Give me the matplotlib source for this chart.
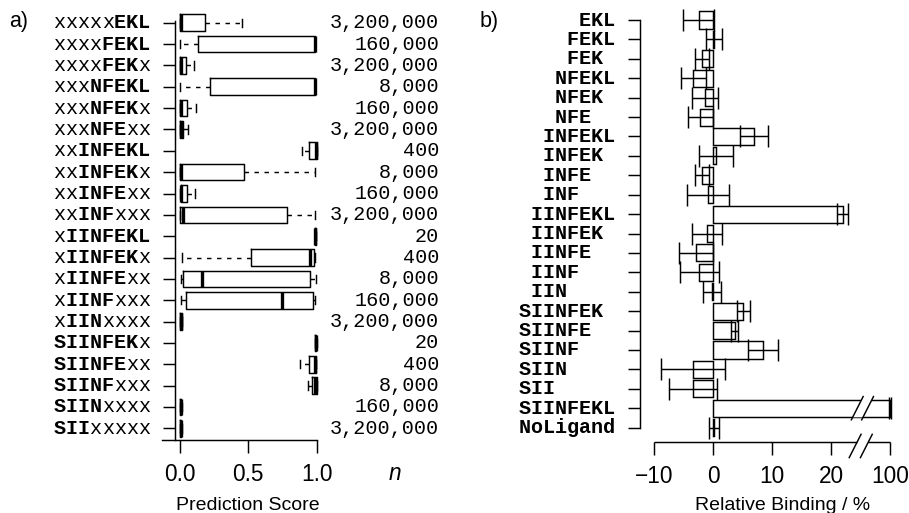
import matplotlib
matplotlib.use("Agg")
import matplotlib.pyplot as plt
import matplotlib.transforms as mtransforms
from matplotlib.patches import Polygon

# ---------------- data ----------------
# panel a) : prediction-score box plots
peptides_a = ["xxxxxEKL", "xxxxFEKL", "xxxxFEKx", "xxxNFEKL", "xxxNFEKx",
              "xxxNFExx", "xxINFEKL", "xxINFEKx", "xxINFExx", "xxINFxxx",
              "xIINFEKL", "xIINFEKx", "xIINFExx", "xIINFxxx", "xIINxxxx",
              "SIINFEKx", "SIINFExx", "SIINFxxx", "SIINxxxx", "SIIxxxxx"]
n_values = [3200000, 160000, 3200000, 8000, 160000, 3200000, 400, 8000,
            160000, 3200000, 20, 400, 8000, 160000, 3200000, 20, 400, 8000,
            160000, 3200000]
whisk_lo = [0.0, 0.0, 0.0, 0.0, 0.0, 0.0, 0.89, 0.0, 0.0, 0.0,
            0.985, 0.012, 0.005, 0.005, 0.0, 0.99, 0.878, 0.939, 0.0, 0.0]
q1 = [0.0, 0.129, 0.0, 0.22, 0.0, 0.0, 0.946, 0.0, 0.005, 0.0,
      0.988, 0.52, 0.02, 0.042, 0.002, 0.99, 0.944, 0.963, 0.002, 0.002]
median = [0.005, 0.985, 0.005, 0.985, 0.005, 0.006, 0.993, 0.008, 0.006, 0.025,
          0.99, 0.95, 0.159, 0.749, 0.006, 0.995, 0.985, 0.99, 0.006, 0.006]
q3 = [0.183, 0.99, 0.042, 0.99, 0.05, 0.025, 1.0, 0.47, 0.05, 0.78,
      0.995, 0.978, 0.951, 0.975, 0.012, 0.998, 0.992, 1.0, 0.01, 0.01]
whisk_hi = [0.45, 0.99, 0.105, 0.99, 0.12, 0.058, 1.0, 0.988, 0.11, 0.988,
            0.998, 0.99, 0.993, 0.99, 0.015, 0.999, 0.995, 1.0, 0.012, 0.012]

# panel b) : relative binding bars (label strings padded to residue columns)
peptides_b = ["     EKL", "    FEKL", "    FEK ", "   NFEKL", "   NFEK ",
              "   NFE  ", "  INFEKL", "  INFEK ", "  INFE  ", "  INF   ",
              " IINFEKL", " IINFEK ", " IINFE  ", " IINF   ", " IIN    ",
              "SIINFEK ", "SIINFE  ", "SIINF   ", "SIIN    ", "SII     ",
              "SIINFEKL", "NoLigand"]
binding = [-2.45, 0.1, -1.9, -3.4, -1.4, -2.2, 6.9, 0.45, -1.9, -0.9,
           21.9, -1.1, -2.9, -2.4, -0.2, 5.1, 3.6, 8.4, -3.4, -3.4,
           100.0, 0.1]
binding_err = [2.65, 1.4, 1.2, 2.1, 2.15, 2.1, 2.4, 2.9, 1.2, 3.6,
               0.95, 2.5, 2.9, 3.3, 1.5, 1.15, 0.55, 2.55, 5.4, 4.05,
               0.2, 0.8]
xticks_b = [-10, 0, 10, 20, 100]
xtick_labels_b = ["\u221210", "0", "10", "20", "100"]

# ---------------- layout helpers ----------------
W, H = 909, 513
plt.rcParams["font.family"] = ["Liberation Sans", "DejaVu Sans"]
plt.rcParams["lines.scale_dashes"] = False

MONO = "Liberation Mono"
MONO_FS = 14.5
ADV = 0.6 * MONO_FS * 100 / 72.0        # monospace advance in pixels
TICK_FS = 16.3
LAB_FS = 14
LW = 1.05

BREAK_GAP = 70.0   # axis break: values above 25 are shifted down by 70


def brk(v):
    return v - BREAK_GAP if v > 25 else v


fig = plt.figure(figsize=(W / 100, H / 100), dpi=100)
fig.patch.set_facecolor("white")


def place(ax, xlim, x0px, xs, ylim, y0px, ys):
    lpx = x0px + xlim[0] * xs
    rpx = x0px + xlim[1] * xs
    tpx = y0px + ylim[0] * ys
    bpx = y0px + ylim[1] * ys
    ax.set_position([lpx / W, 1 - bpx / H, (rpx - lpx) / W, (bpx - tpx) / H])
    ax.set_xlim(*xlim)
    ax.set_ylim(ylim[1], ylim[0])


def draw_label(ax, row, s, right_px, boldfun):
    trans = mtransforms.blended_transform_factory(fig.transFigure, ax.transData)
    start = right_px - len(s) * ADV
    for i, ch in enumerate(s):
        if ch == " ":
            continue
        ax.text((start + (i + 0.5) * ADV) / W, row, ch, transform=trans,
                ha="center", va="center", family=MONO,
                weight="bold" if boldfun(ch) else "normal",
                fontsize=MONO_FS, clip_on=False)


# ---------------- panel a ----------------
axA = fig.add_axes([0, 0, 1, 1])
YBOT_A = 19.55
place(axA, (-0.135, 1.02), 180.0, 136.7, (-0.7, YBOT_A), 22.7, 21.35)
for s in ("top", "right"):
    axA.spines[s].set_visible(False)
axA.spines["left"].set_position(("data", -0.04))
axA.spines["left"].set_bounds(-0.1, YBOT_A)
axA.spines["bottom"].set_bounds(-0.135, 1.0)
for s in ("left", "bottom"):
    axA.spines[s].set_linewidth(LW)

rows_a = list(range(len(peptides_a)))
stats = [dict(med=m, q1=a, q3=b, whislo=lo, whishi=hi, fliers=[])
         for m, a, b, lo, hi in zip(median, q1, q3, whisk_lo, whisk_hi)]
bkw = dict(positions=rows_a, widths=0.78, capwidths=0.39, showfliers=False,
           manage_ticks=False,
           boxprops=dict(color="black", linewidth=LW),
           whiskerprops=dict(color="black", linewidth=LW, linestyle=(0, (3.2, 4.0))),
           capprops=dict(color="black", linewidth=LW),
           medianprops=dict(color="black", linewidth=2.4, solid_capstyle="butt"))
try:
    axA.bxp(stats, orientation="horizontal", **bkw)
except TypeError:
    axA.bxp(stats, vert=False, **bkw)

axA.set_yticks(rows_a)
axA.set_yticklabels([])
axA.tick_params(axis="y", length=9.0, width=LW, direction="out")
axA.set_xticks([0.0, 0.5, 1.0])
axA.set_xticklabels(["0.0", "0.5", "1.0"], fontsize=TICK_FS)
axA.tick_params(axis="x", length=9.3, width=LW, direction="out", pad=7)

for r, s in zip(rows_a, peptides_a):
    draw_label(axA, r, s, 150.0, lambda c: c != "x")

transA = mtransforms.blended_transform_factory(fig.transFigure, axA.transData)
for r, n in zip(rows_a, n_values):
    axA.text(439.0 / W, r, f"{n:,}", transform=transA, ha="right", va="center",
             family=MONO, fontsize=MONO_FS, clip_on=False)

fig.text(395 / W, 1 - 479.5 / H, "n", style="italic", ha="center",
         va="baseline", fontsize=TICK_FS)
fig.text(248 / W, 1 - 510 / H, "Prediction Score", ha="center",
         va="baseline", fontsize=LAB_FS)
fig.text(9 / W, 1 - 21 / H, "a)", ha="left", va="center", fontsize=15.5)

# ---------------- panel b ----------------
axB = fig.add_axes([0, 0, 1, 1])
YBOT_B = 21.76
place(axB, (-12.42, 31.5), 713.3, 5.9, (-0.7, YBOT_B), 20.0, 19.41)
for s in ("top", "right", "bottom"):
    axB.spines[s].set_visible(False)
axB.spines["left"].set_bounds(0, len(peptides_b) - 1)
axB.spines["left"].set_linewidth(LW)

rows_b = list(range(len(peptides_b)))
vals_b = [brk(v) for v in binding]
axB.barh(rows_b, vals_b, height=0.88, left=0, color="white",
         edgecolor="black", linewidth=LW, zorder=1)
axB.errorbar(vals_b, rows_b, xerr=binding_err, fmt="none", ecolor="black",
             elinewidth=LW, capsize=8, capthick=LW, zorder=2)

axB.set_yticks(rows_b)
axB.set_yticklabels([])
axB.tick_params(axis="y", length=8.9, width=LW, direction="out")
axB.set_xticks([brk(v) for v in xticks_b])
axB.set_xticklabels(xtick_labels_b, fontsize=TICK_FS)
axB.tick_params(axis="x", length=9.1, width=LW, direction="out", pad=7)

for r, s in zip(rows_b, peptides_b):
    draw_label(axB, r, s, 615.0, lambda c: True)

# axis break on the long bar
r_long = binding.index(max(binding))
DX, DY = 1.0, 0.6
c1, c2 = 24.4, 26.15
hb = 0.47
k = DX / DY
axB.add_patch(Polygon([(c1 - k * hb, r_long + hb), (c2 - k * hb, r_long + hb),
                       (c2 + k * hb, r_long - hb), (c1 + k * hb, r_long - hb)],
                      closed=True, facecolor="white", edgecolor="none", zorder=3))
for c in (c1, c2):
    axB.plot([c - DX, c + DX], [r_long + DY, r_long - DY], color="black",
             lw=LW, zorder=4)

# axis break on the x axis line
ya = YBOT_B
yc = 21.945
a1, a2 = 24.04, 25.94
g1 = a1 + k * (yc - ya)
g2 = a2 + k * (yc - ya)
axB.plot([brk(xticks_b[0]), g1], [ya, ya], color="black", lw=LW, clip_on=False,
         solid_capstyle="butt")
axB.plot([g2, brk(xticks_b[-1])], [ya, ya], color="black", lw=LW, clip_on=False,
         solid_capstyle="butt")
for c in (a1, a2):
    axB.plot([c - DX, c + DX], [yc + DY, yc - DY], color="black", lw=LW,
             clip_on=False)

fig.text(783 / W, 1 - 510 / H, "Relative Binding / %", ha="center",
         va="baseline", fontsize=LAB_FS)
fig.text(480 / W, 1 - 21 / H, "b)", ha="left", va="center", fontsize=15.5)

fig.savefig("out.png", dpi=100, facecolor="white")
